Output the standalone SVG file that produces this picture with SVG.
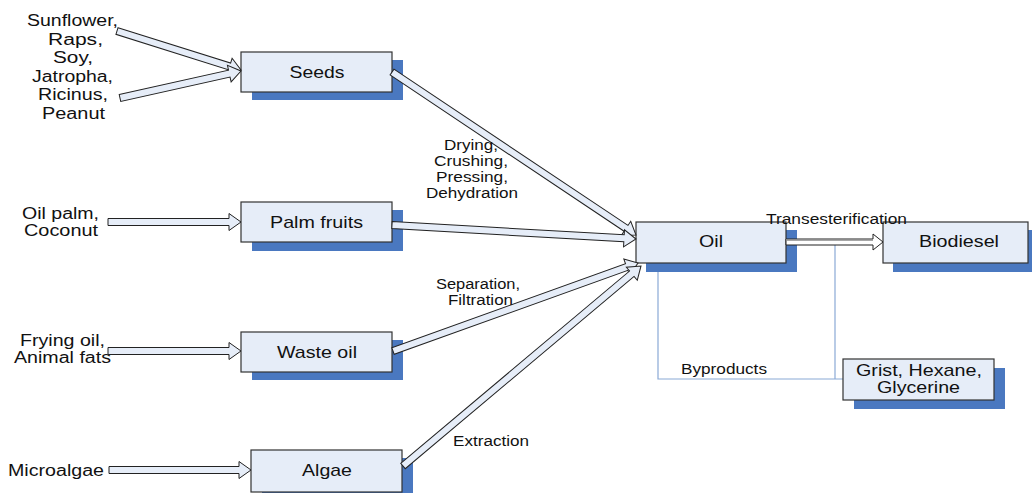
<svg xmlns="http://www.w3.org/2000/svg" width="1032" height="493" viewBox="0 0 1032 493">
<style>
text{font-family:"Liberation Sans",Arial,sans-serif;fill:#111;}
.n{font-size:17px;text-anchor:middle;}
.l{font-size:16px;text-anchor:middle;}
.s{font-size:14px;text-anchor:middle;}
.box{fill:#e6edf8;stroke:#333;stroke-width:1.2;}
.sh{fill:#4a78c0;}
.arr{fill:#e6edf8;stroke:#222;stroke-width:1;stroke-linejoin:miter;}
.by{fill:none;stroke:#8aa9d6;stroke-width:1.2;}
</style>
<rect width="1032" height="493" fill="#fff"/>
<g id="byproduct-lines">
<polyline class="by" points="658,263 658,379 843,379"/>
<line class="by" x1="835" y1="245" x2="835" y2="379"/>
</g>
<g id="seeds">
<rect class="sh" x="252" y="60" width="151" height="40"/>
<rect class="box" x="241" y="52" width="151" height="40"/>
<text class="n" x="317" y="77.5" textLength="55" lengthAdjust="spacingAndGlyphs">Seeds</text>
</g>
<g id="palm">
<rect class="sh" x="252" y="210" width="151" height="41"/>
<rect class="box" x="241" y="202" width="151" height="40"/>
<text class="n" x="316.5" y="227.5" textLength="93" lengthAdjust="spacingAndGlyphs">Palm fruits</text>
</g>
<g id="waste">
<rect class="sh" x="252" y="340" width="151" height="40"/>
<rect class="box" x="241" y="332" width="151" height="40"/>
<text class="n" x="317" y="357.5" textLength="80" lengthAdjust="spacingAndGlyphs">Waste oil</text>
</g>
<g id="algae">
<rect class="sh" x="262" y="458" width="151" height="35"/>
<rect class="box" x="251" y="450" width="151" height="42"/>
<text class="n" x="327" y="476" textLength="50" lengthAdjust="spacingAndGlyphs">Algae</text>
</g>
<g id="oil">
<rect class="sh" x="646" y="230" width="151" height="42"/>
<rect class="box" x="636" y="222" width="150" height="41"/>
<text class="n" x="711" y="247" textLength="24" lengthAdjust="spacingAndGlyphs">Oil</text>
</g>
<g id="biodiesel">
<rect class="sh" x="893" y="230" width="139" height="42"/>
<rect class="box" x="883" y="222" width="145" height="41"/>
<text class="n" x="959" y="247" textLength="80" lengthAdjust="spacingAndGlyphs">Biodiesel</text>
</g>
<g id="grist">
<rect class="sh" x="854" y="368" width="151" height="41"/>
<rect class="box" x="843" y="359" width="151" height="41"/>
<text class="n" x="919" y="375.5" textLength="126" lengthAdjust="spacingAndGlyphs">Grist, Hexane,</text>
<text class="n" x="918.5" y="393" textLength="83" lengthAdjust="spacingAndGlyphs">Glycerine</text>
</g>
<g id="sources">
<text class="l" x="72.5" y="26" textLength="91" lengthAdjust="spacingAndGlyphs">Sunflower,</text>
<text class="l" x="75.5" y="44.5" textLength="55" lengthAdjust="spacingAndGlyphs">Raps,</text>
<text class="l" x="73" y="63" textLength="40" lengthAdjust="spacingAndGlyphs">Soy,</text>
<text class="l" x="72.5" y="81.5" textLength="81" lengthAdjust="spacingAndGlyphs">Jatropha,</text>
<text class="l" x="73" y="100" textLength="70" lengthAdjust="spacingAndGlyphs">Ricinus,</text>
<text class="l" x="73.5" y="118.5" textLength="63" lengthAdjust="spacingAndGlyphs">Peanut</text>
<text class="l" x="60.5" y="219" textLength="77" lengthAdjust="spacingAndGlyphs">Oil palm,</text>
<text class="l" x="61" y="235.5" textLength="74" lengthAdjust="spacingAndGlyphs">Coconut</text>
<text class="l" x="62.5" y="346" textLength="85" lengthAdjust="spacingAndGlyphs">Frying oil,</text>
<text class="l" x="62.5" y="362.5" textLength="97" lengthAdjust="spacingAndGlyphs">Animal fats</text>
<text class="l" x="56" y="476" textLength="96" lengthAdjust="spacingAndGlyphs">Microalgae</text>
</g>
<g id="connectors">
<polygon class="arr" transform="translate(241,70) rotate(17.46)" points="-130,-3.5 -12,-3.5 -12,-8.5 0,0 -12,8.5 -12,3.5 -130,3.5"/>
<polygon class="arr" transform="translate(241,71) rotate(-12.58)" points="-124,-3.5 -12,-3.5 -12,-8.5 0,0 -12,8.5 -12,3.5 -124,3.5"/>
<polygon class="arr" transform="translate(241,222)" points="-133,-3.5 -12,-3.5 -12,-8.5 0,0 -12,8.5 -12,3.5 -133,3.5"/>
<polygon class="arr" transform="translate(241,351)" points="-133,-3.5 -12,-3.5 -12,-8.5 0,0 -12,8.5 -12,3.5 -133,3.5"/>
<polygon class="arr" transform="translate(251,470)" points="-142,-3.5 -12,-3.5 -12,-8.5 0,0 -12,8.5 -12,3.5 -142,3.5"/>
<polygon class="arr" transform="translate(636,235) rotate(33.74)" points="-293.4,-3.5 -12,-3.5 -12,-8.5 0,0 -12,8.5 -12,3.5 -293.4,3.5"/>
<polygon class="arr" transform="translate(636,239) rotate(3.28)" points="-244.4,-3.5 -12,-3.5 -12,-8.5 0,0 -12,8.5 -12,3.5 -244.4,3.5"/>
<polygon class="arr" transform="translate(638,263) rotate(-19.76)" points="-260.3,-3.5 -12,-3.5 -12,-8.5 0,0 -12,8.5 -12,3.5 -260.3,3.5"/>
<polygon class="arr" transform="translate(641,266) rotate(-40.04)" points="-310.9,-3.5 -12,-3.5 -12,-8.5 0,0 -12,8.5 -12,3.5 -310.9,3.5"/>
<polygon fill="#fff" stroke="#222" stroke-width="1" transform="translate(883,242)" points="-97,-3 -10,-3 -10,-8 0,0 -10,8 -10,3 -97,3"/>
<line x1="786" y1="239.8" x2="873" y2="239.8" stroke="#8a8a8a" stroke-width="1.8"/>
</g>
<g id="labels">
<text class="s" x="471" y="150" textLength="54" lengthAdjust="spacingAndGlyphs">Drying,</text>
<text class="s" x="471" y="166" textLength="74" lengthAdjust="spacingAndGlyphs">Crushing,</text>
<text class="s" x="472" y="182" textLength="72" lengthAdjust="spacingAndGlyphs">Pressing,</text>
<text class="s" x="472" y="198" textLength="92" lengthAdjust="spacingAndGlyphs">Dehydration</text>
<text class="s" x="478" y="289" textLength="84" lengthAdjust="spacingAndGlyphs">Separation,</text>
<text class="s" x="480.5" y="305" textLength="65" lengthAdjust="spacingAndGlyphs">Filtration</text>
<text class="s" x="491" y="446" textLength="76" lengthAdjust="spacingAndGlyphs">Extraction</text>
<text class="s" x="836.5" y="224" textLength="141" lengthAdjust="spacingAndGlyphs">Transesterification</text>
<text class="s" x="724" y="374" textLength="86" lengthAdjust="spacingAndGlyphs">Byproducts</text>
</g>
</svg>
